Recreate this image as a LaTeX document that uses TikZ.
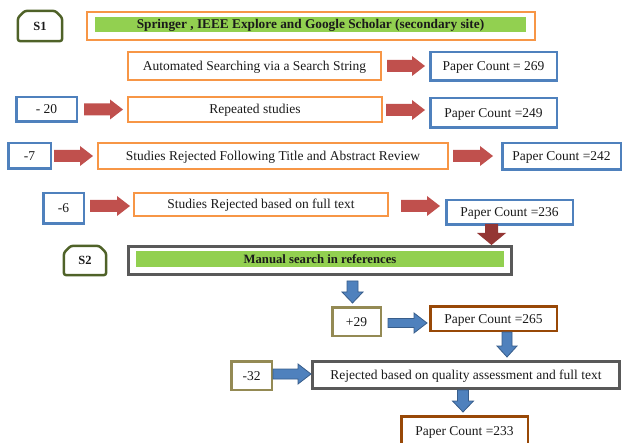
\documentclass[tikz,border=0pt]{standalone}
\usepackage{fontspec}
\setmainfont{Liberation Serif}
\usetikzlibrary{calc}
\definecolor{orng}{HTML}{F79646}
\definecolor{blu}{HTML}{4F81BD}
\definecolor{bludk}{HTML}{385D8A}
\definecolor{redA}{HTML}{C0504D}
\definecolor{redD}{HTML}{943634}
\definecolor{olv}{HTML}{4F6228}
\definecolor{khaki}{HTML}{948A54}
\definecolor{brwn}{HTML}{984807}
\definecolor{gry}{HTML}{595959}
\definecolor{grn}{HTML}{92D050}
\definecolor{txt}{HTML}{1A1A1A}
\newcommand\blkarrow[6]{%
  \coordinate (bS) at #2;
  \coordinate (bE) at #3;
  \coordinate (bH) at ($(bE)!#6!(bS)$);
  \path[#1] ($(bS)!#4!90:(bE)$) -- ($(bH)!#4!90:(bE)$) -- ($(bH)!#5!90:(bE)$) -- (bE)
    -- ($(bH)!#5!-90:(bE)$) -- ($(bH)!#4!-90:(bE)$) -- ($(bS)!#4!-90:(bE)$) -- cycle;
}
\tikzset{
  basebox/.style={draw, inner sep=0pt, text=txt, font=\fontsize{13.5}{15}\selectfont,
    text height=9.6pt, text depth=0.6pt},
  obox/.style={basebox, draw=orng, line width=2pt},
  bbox/.style={basebox, draw=blu, line width=2.5pt},
  kbox/.style={basebox, draw=khaki, line width=2.5pt},
  brbox/.style={basebox, draw=brwn, line width=2.5pt},
  gbox/.style={basebox, draw=gry, line width=3pt},
  sbox/.style={inner sep=0pt, text=txt, font=\fontsize{12.5}{14}\selectfont\bfseries,
    text height=8.8pt, text depth=0.4pt},
  sborder/.style={draw=olv, line width=2.5pt, rounded corners=2.5pt, line join=round},
  gbar/.style={fill=grn, inner sep=0pt, text=txt, font=\fontsize{13.3}{15}\selectfont\bfseries,
    text height=9.4pt, text depth=0.6pt},
  redarr/.style={fill=redA},
  darkarr/.style={fill=redD},
  bluarr/.style={fill=blu, draw=bludk, line width=0.8pt, line join=miter}
}
\begin{document}
\begin{tikzpicture}[x=1pt,y=-1pt]
\useasboundingbox (0,0) rectangle (623,443);
\clip (0,0) rectangle (623,443);

% S1 row
\node[sbox, minimum width=44pt, minimum height=30pt] (s1) at (40,26) {S1};
\draw[sborder] (s1.south west) -- ([yshift=-7pt]s1.north west) -- ([xshift=7pt]s1.north west)
  -- ([xshift=-7pt]s1.north east) -- ([yshift=-7pt]s1.north east) -- (s1.south east) -- cycle;
\node[obox, minimum width=448pt, minimum height=28pt] (src) at (311,26) {};
\node[gbar, minimum width=431pt, minimum height=15pt] (srcbar) at (310.5,24.5)
  {Springer , IEEE Explore and Google Scholar (secondary site)};

% rows
\node[obox, minimum width=253pt, minimum height=28pt] (auto) at (254.5,66) {Automated Searching via a Search String};
\node[bbox, minimum width=126.5pt, minimum height=28.5pt] (pc1) at (493.5,66.5) {Paper Count = 269};

\node[bbox, minimum width=60.5pt, minimum height=24.5pt] (m20) at (46.5,109.5) {- 20};
\node[obox, minimum width=254pt, minimum height=25pt] (rep) at (255,109.5) {Repeated studies};
\node[bbox, minimum width=126.5pt, minimum height=29.5pt] (pc2) at (493.5,113) {Paper Count =249};

\node[bbox, minimum width=42.5pt, minimum height=25.5pt] (m7) at (29.5,156) {-7};
\node[obox, minimum width=350pt, minimum height=26pt] (title) at (273,156) {Studies Rejected Following Title and Abstract Review};
\node[bbox, minimum width=118.5pt, minimum height=26.5pt] (pc3) at (561.5,156.5) {Paper Count =242};

\node[bbox, minimum width=40.5pt, minimum height=30.5pt] (m6) at (63.5,208.5) {-6};
\node[obox, minimum width=254pt, minimum height=23pt] (full) at (261,204.5) {Studies Rejected based on full text};
\node[bbox, minimum width=126.5pt, minimum height=24.5pt] (pc4) at (509.5,212.5) {Paper Count =236};

% S2 row
\node[sbox, minimum width=42pt, minimum height=29pt] (s2) at (85,260.5) {S2};
\draw[sborder] (s2.south west) -- ([yshift=-7pt]s2.north west) -- ([xshift=7pt]s2.north west)
  -- ([xshift=-7pt]s2.north east) -- ([yshift=-7pt]s2.north east) -- (s2.south east) -- cycle;
\node[gbox, minimum width=383pt, minimum height=28pt] (man) at (320,260.5) {};
\node[gbar, font=\fontsize{12.7}{14}\selectfont\bfseries, minimum width=368pt, minimum height=16pt] (manbar) at (320,259) {Manual search in references};

\node[kbox, minimum width=48.5pt, minimum height=28.5pt] (p29) at (356.5,321.5) {+29};
\node[brbox, minimum width=126.5pt, minimum height=24.5pt] (pc5) at (493.5,318.5) {Paper Count =265};
\node[kbox, minimum width=40.5pt, minimum height=28.5pt] (m32) at (251.5,375.5) {-32};
\node[gbox, minimum width=307pt, minimum height=27pt] (rej) at (466,375) {Rejected based on quality assessment and full text};
\node[brbox, minimum width=126.5pt, minimum height=29.5pt] (pc6) at (464.5,431) {Paper Count =233};

% red arrows
\blkarrow{redarr}{($(auto.east)+(5,0)$)}{($(pc1.west |- auto.east)+(-4,0)$)}{6pt}{10pt}{13pt}
\blkarrow{redarr}{($(m20.east)+(6,0)$)}{($(rep.west |- m20.east)+(-4,0)$)}{6pt}{10pt}{13pt}
\blkarrow{redarr}{($(rep.east)+(3,0.5)$)}{($(pc2.west |- rep.east)+(-4,0.5)$)}{6pt}{10pt}{13pt}
\blkarrow{redarr}{($(m7.east)+(2,0)$)}{($(title.west |- m7.east)+(-4,0)$)}{6pt}{10pt}{13pt}
\blkarrow{redarr}{($(title.east)+(4,0)$)}{($(pc3.west |- title.east)+(-8,0)$)}{6pt}{10pt}{13pt}
\blkarrow{redarr}{($(m6.east)+(5,-2.5)$)}{($(full.west |- m6.east)+(-3,-2.5)$)}{6pt}{10pt}{13pt}
\blkarrow{redarr}{($(full.east)+(12,1.5)$)}{($(pc4.west |- full.east)+(-5,1.5)$)}{6pt}{10pt}{13pt}

% dark red arrow down
\coordinate (a8x) at ($(pc4.south)+(-18,-2)$);
\blkarrow{darkarr}{(a8x)}{(a8x |- man.north)}{6.5pt}{14.5pt}{12pt}

% blue arrows
\coordinate (a9x) at ($(p29.north)+(-4,-25)$);
\blkarrow{bluarr}{(a9x)}{($(a9x |- p29.north)+(0,-3)$)}{5.5pt}{10.5pt}{11pt}
\blkarrow{bluarr}{($(p29.east)+(6,1.5)$)}{($(pc5.west |- p29.east)+(-2,1.5)$)}{4.5pt}{10pt}{13pt}
\coordinate (a11x) at ($(pc5.south)+(13.5,0)$);
\blkarrow{bluarr}{(a11x)}{($(a11x |- rej.north)+(0,-3)$)}{5pt}{10pt}{11pt}
\blkarrow{bluarr}{($(m32.east)+(0,-1.5)$)}{($(rej.west |- m32.east)+(0,-1.5)$)}{5pt}{10pt}{13pt}
\coordinate (a13x) at ($(rej.south)+(-3,0)$);
\blkarrow{bluarr}{(a13x)}{($(a13x |- pc6.north)+(0,-3)$)}{5.5pt}{10.5pt}{11pt}
\end{tikzpicture}
\end{document}
